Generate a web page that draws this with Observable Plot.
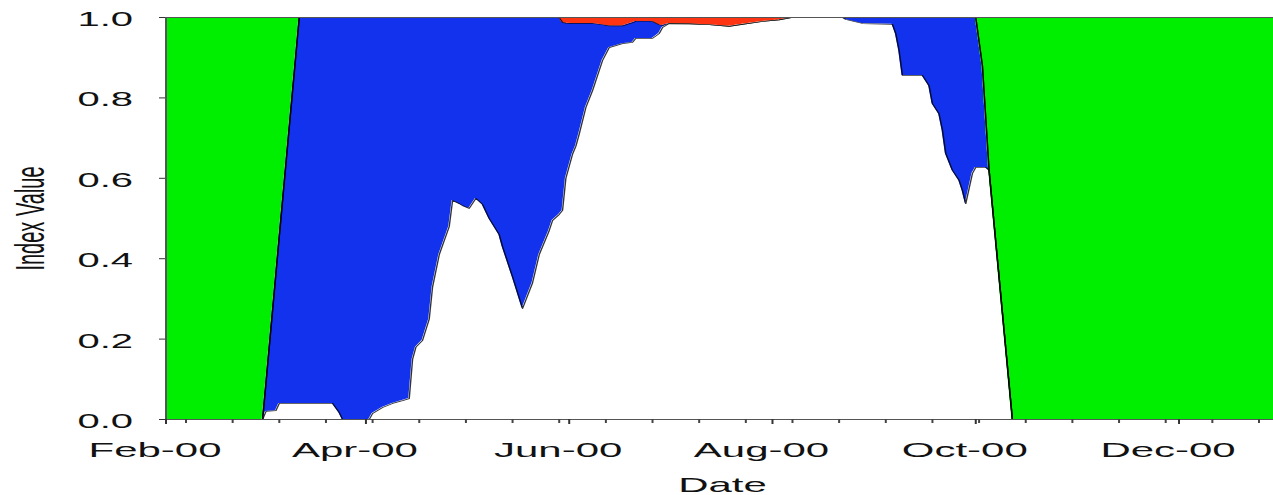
<!DOCTYPE html>
<html><head><meta charset="utf-8">
<script src="https://cdn.jsdelivr.net/npm/d3@7"></script>
<script src="https://cdn.jsdelivr.net/npm/@observablehq/plot@0.6"></script>
<style>
html,body{margin:0;padding:0;background:#fff;overflow:hidden;}
#chart{width:1273px;height:495px;overflow:hidden;}
#chart svg{display:block;transform:scaleX(2);transform-origin:0 0;max-width:none;}
</style></head><body><div id="chart"></div>
<script>
// Dates of the observations
const dates = ["2000-02-01","2000-03-01","2000-03-02","2000-03-05","2000-03-06","2000-03-12","2000-03-22","2000-03-24","2000-03-25","2000-04-02",
"2000-04-03","2000-04-06","2000-04-09","2000-04-12","2000-04-14","2000-04-15","2000-04-16","2000-04-18","2000-04-20","2000-04-21",
"2000-04-23","2000-04-26","2000-04-27","2000-04-29","2000-04-30","2000-05-02","2000-05-04","2000-05-06","2000-05-08","2000-05-11",
"2000-05-12","2000-05-15","2000-05-18","2000-05-21","2000-05-23","2000-05-26","2000-05-27","2000-05-29","2000-05-30","2000-05-31",
"2000-06-02","2000-06-03","2000-06-04","2000-06-06","2000-06-08","2000-06-11","2000-06-13","2000-06-17","2000-06-20","2000-06-21",
"2000-06-26","2000-06-28","2000-06-29","2000-07-01","2000-07-07","2000-07-13","2000-07-19","2000-07-23","2000-07-29","2000-08-03",
"2000-08-07","2000-08-22","2000-08-23","2000-08-28","2000-09-06","2000-09-07","2000-09-08","2000-09-09","2000-09-15","2000-09-17",
"2000-09-18","2000-09-20","2000-09-21","2000-09-22","2000-09-24","2000-09-26","2000-09-27","2000-09-28","2000-09-30","2000-10-01",
"2000-10-03","2000-10-04","2000-10-05","2000-10-12","2000-12-31"];

// Cumulative index value: top of the white (lowest) band
const whiteTop = [0,0,.02,.022,.04,.04,.04,.017,0,0,
.015,.03,.04,.047,.052,.15,.18,.197,.25,.33,
.41,.48,.545,.537,.532,.525,.55,.535,.50,.46,
.43,.355,.276,.34,.41,.47,.495,.51,.52,.60,
.66,.68,.71,.776,.818,.893,.925,.935,.938,.948,
.948,.96,.975,.985,.984,.982,.978,.983,.99,.994,
1,1,.995,.985,.983,.96,.918,.856,.856,.83,
.786,.76,.72,.662,.62,.595,.57,.537,.612,.627,
.627,.627,.62,0,0];

// Cumulative index value: top of the blue band
const blueTop = [0,0,.09,.364,.455,1,1,1,1,1,
1,1,1,1,1,1,1,1,1,1,
1,1,1,1,1,1,1,1,1,1,
1,1,1,1,1,1,1,1,.988,.986,
.985,.985,.985,.985,.985,.982,.979,.979,.987,.99,
.99,.982,.98,.985,.984,.982,.978,.983,.99,.994,
1,1,1,1,1,1,1,1,1,1,
1,1,1,1,1,1,1,1,1,1,
.88,.75,.62,0,0];

// Cumulative index value: top of the red band (green fills the rest up to 1)
const redTop = [0,0,.09,.364,.455,1,1,1,1,1,
1,1,1,1,1,1,1,1,1,1,
1,1,1,1,1,1,1,1,1,1,
1,1,1,1,1,1,1,1,1,1,
1,1,1,1,1,1,1,1,1,1,
1,1,1,1,1,1,1,1,1,1,
1,1,1,1,1,1,1,1,1,1,
1,1,1,1,1,1,1,1,1,1,
.88,.75,.62,0,0];

const majorTicks = ["2000-02-01","2000-04-01","2000-06-01","2000-08-01","2000-10-01","2000-12-01"].map(d => new Date(d));
const yTicks = [0, 0.2, 0.4, 0.6, 0.8, 1.0];
const minorTicks = d3.range(24).map(k => d3.utcDay.offset(new Date("2000-02-07"), 14 * k));

const rows = dates.map((d, i) => ({date: new Date(d), white: whiteTop[i], blue: blueTop[i], red: redTop[i]}));

const GREEN = "#00ee00", BLUE = "#1232ee", RED = "#ff3412";

const chart = Plot.plot({
  width: 639, height: 495,
  marginLeft: 82.5, marginRight: 0, marginTop: 17, marginBottom: 76,
  style: {fontFamily: "'Liberation Sans', Arial, sans-serif", fontSize: "20px", color: "#111", background: "#fff", overflow: "visible"},
  x: {type: "utc", domain: [new Date("2000-02-01"), new Date("2000-12-31")]},
  y: {domain: [0, 1]},
  marks: [
    Plot.areaY(rows, {x: "date", y1: "white", y2: "blue", fill: BLUE}),
    Plot.areaY(rows, {x: "date", y1: "blue", y2: "red", fill: RED}),
    Plot.areaY(rows, {x: "date", y1: "red", y2: 1, fill: GREEN}),
    Plot.line(rows, {x: "date", y: "white", stroke: "#000", strokeWidth: 0.7, strokeOpacity: 0.8}),
    Plot.line(rows, {x: "date", y: "blue", stroke: "#000", strokeWidth: 0.7, strokeOpacity: 0.8}),
    Plot.line(rows, {x: "date", y: "red", stroke: "#000", strokeWidth: 0.7, strokeOpacity: 0.8}),
    Plot.frame({stroke: "#555"}),
    Plot.axisY(yTicks, {tickSize: 3, fill: "none", stroke: "#333", label: null}),
    Plot.axisY(yTicks, {tickSize: 0, tickPadding: 16.5, dy: 2, tickFormat: d3.format(".1f"), label: null}),
    Plot.axisX(minorTicks, {tickSize: 4, fill: "none", stroke: "#444", label: null}),
    Plot.axisX(majorTicks, {tickSize: 5, fill: "none", stroke: "#333", label: null}),
    Plot.axisX(majorTicks, {tickSize: 0, tickPadding: 22.5, dx: -5.5, fontSize: 21, tickFormat: d3.utcFormat("%b-%y"), label: null}),
    Plot.text(["Date"], {frameAnchor: "bottom", dy: 72, lineAnchor: "bottom", textAnchor: "middle", fontSize: 21}),
    Plot.text(["Index Value"], {frameAnchor: "left", rotate: -90, dx: -75, lineAnchor: "top", textAnchor: "middle"})
  ]
});
document.getElementById("chart").appendChild(chart);
</script></body></html>
